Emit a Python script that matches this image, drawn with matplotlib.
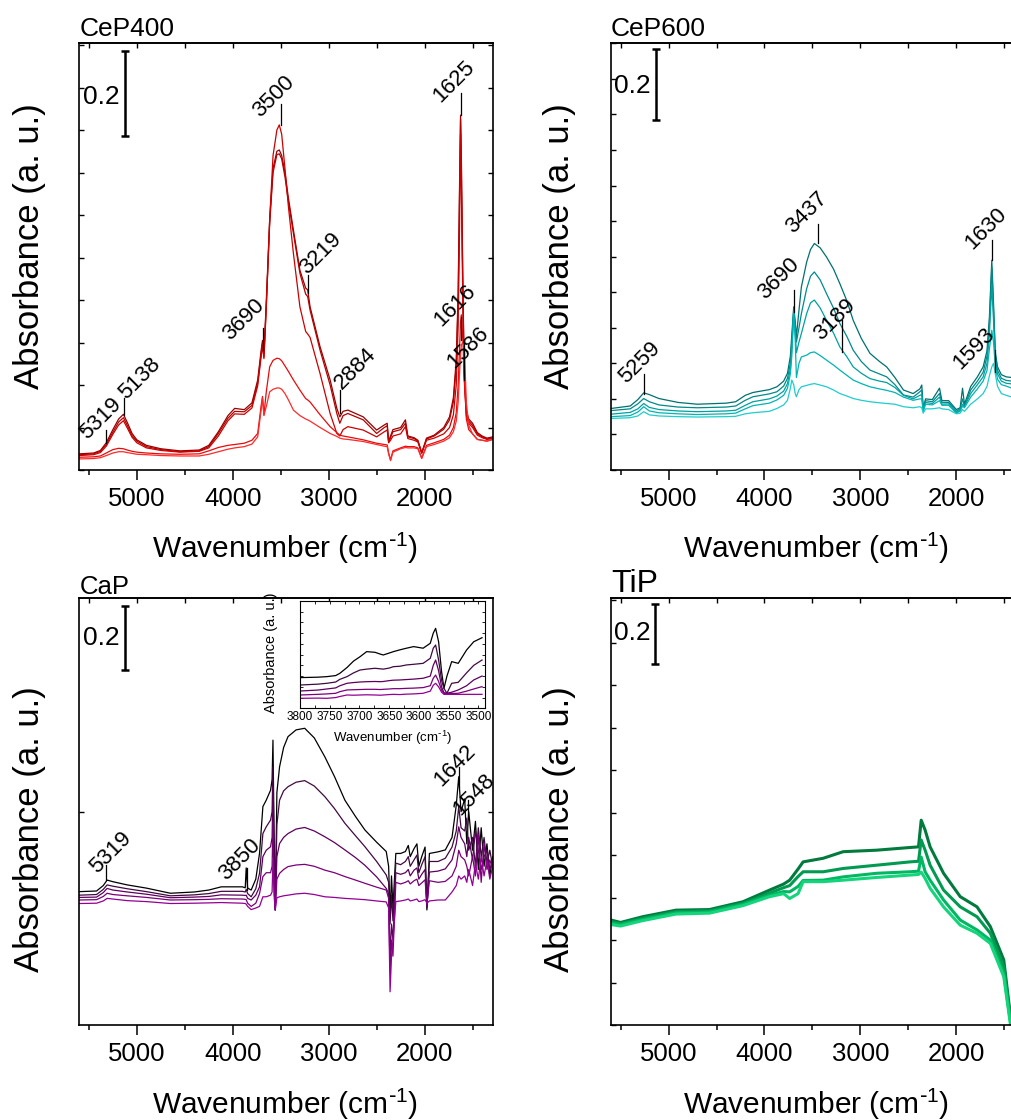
import matplotlib
matplotlib.use("Agg")
import matplotlib.pyplot as plt
from matplotlib.ticker import MultipleLocator, NullFormatter, FixedLocator

plt.rcParams['font.family'] = ['Liberation Sans', 'DejaVu Sans']
plt.rcParams['mathtext.default'] = 'regular'
plt.rcParams['axes.linewidth'] = 1.2

# ---------------- CeP400 ----------------
cep400_wn = [5600, 5450, 5380, 5319, 5250, 5190, 5140, 5100, 5050, 5000, 4900, 4750, 4550, 4350, 4250,
             4150, 4050, 3980, 3880, 3800, 3740, 3705, 3690, 3675, 3650, 3615, 3580, 3540, 3515, 3490,
             3456, 3420, 3368, 3300, 3240, 3219, 3194, 3090, 2985, 2915, 2884, 2850, 2800, 2640, 2500,
             2420, 2390, 2375, 2355, 2330, 2250, 2200, 2175, 2110, 2070, 2030, 1980, 1900, 1800, 1740,
             1700, 1670, 1650, 1635, 1625, 1616, 1600, 1586, 1565, 1540, 1500, 1450, 1400, 1350, 1290]
cep400_a1 = [0.038, 0.040, 0.046, 0.064, 0.095, 0.120, 0.131, 0.112, 0.086, 0.071, 0.058, 0.050, 0.045, 0.047, 0.058,
             0.090, 0.128, 0.145, 0.142, 0.158, 0.212, 0.280, 0.305, 0.272, 0.400, 0.590, 0.710, 0.750, 0.753, 0.740,
             0.700, 0.640, 0.565, 0.470, 0.428, 0.424, 0.384, 0.290, 0.212, 0.145, 0.125, 0.138, 0.141, 0.125, 0.094,
             0.106, 0.110, 0.068, 0.080, 0.095, 0.100, 0.118, 0.080, 0.076, 0.070, 0.040, 0.075, 0.082, 0.100, 0.125,
             0.170, 0.260, 0.420, 0.680, 0.835, 0.720, 0.420, 0.230, 0.140, 0.120, 0.110, 0.088, 0.080, 0.075, 0.078]
cep400_a2 = [0.036, 0.038, 0.044, 0.060, 0.089, 0.113, 0.123, 0.105, 0.081, 0.068, 0.055, 0.048, 0.043, 0.045, 0.055,
             0.086, 0.122, 0.138, 0.137, 0.152, 0.205, 0.272, 0.298, 0.266, 0.390, 0.580, 0.700, 0.742, 0.744, 0.732,
             0.690, 0.632, 0.557, 0.463, 0.414, 0.408, 0.376, 0.282, 0.200, 0.133, 0.110, 0.128, 0.133, 0.118, 0.086,
             0.100, 0.104, 0.066, 0.076, 0.090, 0.095, 0.110, 0.078, 0.074, 0.068, 0.040, 0.073, 0.080, 0.096, 0.118,
             0.160, 0.245, 0.400, 0.660, 0.825, 0.700, 0.400, 0.220, 0.135, 0.115, 0.105, 0.085, 0.078, 0.073, 0.076]
cep400_a3 = [0.034, 0.036, 0.041, 0.056, 0.084, 0.106, 0.116, 0.099, 0.077, 0.064, 0.052, 0.046, 0.042, 0.044, 0.052,
             0.080, 0.116, 0.132, 0.131, 0.146, 0.198, 0.265, 0.292, 0.262, 0.385, 0.590, 0.740, 0.800, 0.812, 0.790,
             0.710, 0.620, 0.510, 0.384, 0.326, 0.320, 0.312, 0.227, 0.133, 0.086, 0.080, 0.095, 0.102, 0.094, 0.078,
             0.090, 0.094, 0.064, 0.070, 0.080, 0.085, 0.102, 0.074, 0.070, 0.066, 0.040, 0.070, 0.075, 0.085, 0.100,
             0.130, 0.200, 0.340, 0.580, 0.790, 0.650, 0.370, 0.210, 0.128, 0.110, 0.100, 0.082, 0.076, 0.072, 0.074]
cep400_a4 = [0.030, 0.031, 0.033, 0.040, 0.048, 0.051, 0.050, 0.047, 0.044, 0.042, 0.040, 0.038, 0.037, 0.038, 0.045,
             0.053, 0.058, 0.060, 0.063, 0.070, 0.086, 0.150, 0.173, 0.130, 0.185, 0.243, 0.258, 0.263, 0.262, 0.257,
             0.245, 0.232, 0.212, 0.188, 0.168, 0.165, 0.160, 0.130, 0.102, 0.088, 0.082, 0.080, 0.078, 0.071, 0.063,
             0.060, 0.059, 0.040, 0.024, 0.045, 0.052, 0.056, 0.055, 0.055, 0.052, 0.028, 0.058, 0.064, 0.072, 0.082,
             0.100, 0.135, 0.200, 0.290, 0.350, 0.365, 0.300, 0.220, 0.120, 0.095, 0.085, 0.072, 0.070, 0.068, 0.072]
cep400_a5 = [0.026, 0.027, 0.029, 0.034, 0.040, 0.043, 0.043, 0.041, 0.039, 0.037, 0.036, 0.034, 0.033, 0.033, 0.037,
             0.043, 0.049, 0.052, 0.055, 0.061, 0.078, 0.140, 0.170, 0.128, 0.150, 0.184, 0.190, 0.193, 0.193, 0.190,
             0.180, 0.165, 0.141, 0.128, 0.120, 0.118, 0.115, 0.100, 0.086, 0.079, 0.075, 0.073, 0.072, 0.067, 0.060,
             0.056, 0.055, 0.038, 0.022, 0.042, 0.050, 0.053, 0.052, 0.052, 0.050, 0.027, 0.055, 0.060, 0.068, 0.076,
             0.090, 0.115, 0.160, 0.230, 0.275, 0.295, 0.300, 0.290, 0.160, 0.105, 0.085, 0.072, 0.070, 0.068, 0.072]
cep400_colors = ['#980000', '#b40000', '#cc0000', '#ea0a0a', '#ff2a2a']
cep400_marks = [  # label, line position, line bottom, line top, text centre (wn, A)
    ('5319', 5319, 0.063, 0.094, 5375, 0.120),
    ('5138', 5138, 0.129, 0.169, 4971, 0.216),
    ('3690', 3690, 0.282, 0.333, 3888, 0.353),
    ('3500', 3500, 0.812, 0.861, 3570, 0.878),
    ('3219', 3219, 0.416, 0.459, 3082, 0.510),
    ('2884', 2884, 0.133, 0.188, 2723, 0.238),
    ('1625', 1625, 0.835, 0.886, 1694, 0.914),
    ('1616', 1616, 0.306, 0.361, 1686, 0.388),
    ('1586', 1586, 0.212, 0.306, 1547, 0.289),
]

# ---------------- CeP600 ----------------
cep600_wn = [5600, 5400, 5320, 5259, 5200, 5100, 4900, 4700, 4400, 4300, 4200, 4120, 3950, 3870, 3800,
             3760, 3730, 3715, 3695, 3680, 3667, 3640, 3615, 3560, 3520, 3480, 3420, 3353, 3280, 3214,
             3140, 3075, 2990, 2900, 2800, 2726, 2640, 2551, 2450, 2380, 2360, 2345, 2320, 2250, 2175,
             2150, 2080, 2000, 1960, 1935, 1915, 1850, 1780, 1720, 1680, 1655, 1630, 1612, 1593, 1570,
             1530, 1480, 1420, 1290]
cep600_a1 = [0.173, 0.180, 0.198, 0.217, 0.212, 0.201, 0.190, 0.185, 0.188, 0.192, 0.210, 0.218, 0.226, 0.234, 0.250,
             0.272, 0.320, 0.380, 0.459, 0.420, 0.375, 0.450, 0.515, 0.585, 0.620, 0.637, 0.625, 0.599, 0.565, 0.524,
             0.475, 0.421, 0.370, 0.328, 0.305, 0.290, 0.260, 0.225, 0.215, 0.228, 0.239, 0.175, 0.200, 0.198, 0.230,
             0.195, 0.195, 0.170, 0.175, 0.230, 0.185, 0.235, 0.262, 0.290, 0.335, 0.430, 0.590, 0.470, 0.330, 0.290,
             0.268, 0.262, 0.260, 0.255]
cep600_a2 = [0.167, 0.172, 0.186, 0.201, 0.192, 0.183, 0.177, 0.175, 0.177, 0.180, 0.196, 0.206, 0.214, 0.220, 0.236,
             0.258, 0.300, 0.360, 0.450, 0.405, 0.360, 0.400, 0.440, 0.510, 0.545, 0.557, 0.535, 0.496, 0.455, 0.412,
             0.375, 0.337, 0.305, 0.281, 0.270, 0.262, 0.240, 0.211, 0.205, 0.220, 0.225, 0.170, 0.195, 0.192, 0.215,
             0.190, 0.190, 0.165, 0.172, 0.200, 0.180, 0.225, 0.250, 0.275, 0.320, 0.410, 0.570, 0.450, 0.320, 0.280,
             0.258, 0.252, 0.250, 0.245]
cep600_a3 = [0.157, 0.162, 0.172, 0.187, 0.176, 0.170, 0.166, 0.164, 0.166, 0.168, 0.182, 0.192, 0.200, 0.208, 0.222,
             0.243, 0.285, 0.340, 0.445, 0.390, 0.330, 0.360, 0.384, 0.440, 0.470, 0.478, 0.456, 0.421, 0.385, 0.346,
             0.318, 0.290, 0.272, 0.257, 0.250, 0.246, 0.232, 0.210, 0.200, 0.210, 0.212, 0.168, 0.190, 0.187, 0.205,
             0.185, 0.186, 0.162, 0.168, 0.185, 0.178, 0.215, 0.240, 0.262, 0.300, 0.380, 0.520, 0.420, 0.305, 0.270,
             0.250, 0.244, 0.242, 0.238]
cep600_a4 = [0.150, 0.153, 0.163, 0.178, 0.166, 0.161, 0.158, 0.156, 0.158, 0.160, 0.172, 0.181, 0.188, 0.197, 0.210,
             0.230, 0.270, 0.320, 0.440, 0.370, 0.260, 0.300, 0.318, 0.323, 0.330, 0.332, 0.322, 0.309, 0.295, 0.281,
             0.266, 0.253, 0.243, 0.234, 0.228, 0.224, 0.218, 0.205, 0.196, 0.200, 0.200, 0.165, 0.185, 0.183, 0.195,
             0.182, 0.182, 0.160, 0.165, 0.180, 0.175, 0.205, 0.228, 0.250, 0.280, 0.340, 0.393, 0.360, 0.290, 0.255,
             0.240, 0.236, 0.230, 0.228]
cep600_a5 = [0.145, 0.147, 0.152, 0.164, 0.155, 0.152, 0.150, 0.149, 0.150, 0.151, 0.158, 0.161, 0.165, 0.173, 0.183,
             0.196, 0.230, 0.253, 0.240, 0.215, 0.206, 0.226, 0.234, 0.238, 0.241, 0.243, 0.239, 0.234, 0.225, 0.215,
             0.208, 0.201, 0.196, 0.192, 0.189, 0.187, 0.185, 0.178, 0.175, 0.178, 0.175, 0.160, 0.172, 0.172, 0.175,
             0.172, 0.170, 0.158, 0.160, 0.170, 0.165, 0.185, 0.200, 0.215, 0.235, 0.265, 0.290, 0.300, 0.270, 0.235,
             0.215, 0.210, 0.205, 0.200]
cep600_colors = ['#007070', '#008a8a', '#00a0a0', '#00b4b4', '#20cccc']
cep600_marks = [
    ('5259', 5259, 0.215, 0.270, 5299, 0.302),
    ('3690', 3690, 0.445, 0.506, 3852, 0.537),
    ('3437', 3437, 0.637, 0.693, 3556, 0.724),
    ('3189', 3189, 0.332, 0.421, 3267, 0.424),
    ('1630', 1630, 0.590, 0.646, 1690, 0.679),
    ('1593', 1593, 0.276, 0.337, 1813, 0.340),
]

# ---------------- CaP ----------------
cap_wn = [5600, 5420, 5350, 5310, 5250, 5100, 4900, 4650, 4400, 4250, 4120, 3900, 3870, 3860, 3845,
          3808, 3760, 3721, 3686, 3651, 3606, 3590, 3581, 3570, 3557, 3540, 3512, 3470, 3424, 3340,
          3250, 3150, 3040, 2940, 2831, 2720, 2622, 2500, 2400, 2375, 2360, 2345, 2330, 2300, 2250,
          2200, 2170, 2150, 2110, 2080, 2060, 2030, 1995, 1976, 1950, 1860, 1784, 1714, 1670, 1644,
          1620, 1582, 1560, 1540, 1500, 1470, 1440, 1410, 1380, 1350, 1320, 1290]
cap_a1 = [0.251, 0.253, 0.270, 0.287, 0.282, 0.272, 0.262, 0.246, 0.250, 0.256, 0.266, 0.266, 0.263, 0.325, 0.262,
          0.256, 0.290, 0.370, 0.516, 0.536, 0.567, 0.600, 0.723, 0.450, 0.194, 0.560, 0.640, 0.700, 0.734, 0.755,
          0.760, 0.730, 0.671, 0.610, 0.536, 0.485, 0.443, 0.405, 0.376, 0.330, 0.180, 0.300, 0.200, 0.370, 0.370,
          0.376, 0.395, 0.360, 0.385, 0.400, 0.330, 0.360, 0.390, 0.194, 0.370, 0.375, 0.381, 0.420, 0.520, 0.609,
          0.500, 0.540, 0.400, 0.500, 0.380, 0.470, 0.320, 0.450, 0.330, 0.400, 0.300, 0.360]
cap_a2 = [0.240, 0.242, 0.258, 0.272, 0.268, 0.260, 0.251, 0.238, 0.241, 0.245, 0.252, 0.252, 0.250, 0.258, 0.245,
          0.235, 0.260, 0.308, 0.432, 0.453, 0.474, 0.500, 0.640, 0.380, 0.194, 0.460, 0.536, 0.565, 0.578, 0.592,
          0.597, 0.580, 0.547, 0.510, 0.464, 0.425, 0.391, 0.345, 0.303, 0.280, 0.150, 0.240, 0.160, 0.340, 0.335,
          0.345, 0.360, 0.330, 0.350, 0.365, 0.310, 0.335, 0.360, 0.200, 0.345, 0.345, 0.355, 0.390, 0.440, 0.516,
          0.450, 0.440, 0.480, 0.380, 0.420, 0.330, 0.450, 0.360, 0.420, 0.340, 0.380, 0.330]
cap_a3 = [0.233, 0.234, 0.248, 0.261, 0.256, 0.250, 0.243, 0.232, 0.234, 0.236, 0.241, 0.240, 0.239, 0.240, 0.230,
          0.225, 0.240, 0.266, 0.360, 0.380, 0.391, 0.420, 0.578, 0.330, 0.194, 0.360, 0.401, 0.420, 0.432, 0.446,
          0.451, 0.440, 0.422, 0.404, 0.381, 0.357, 0.333, 0.297, 0.261, 0.245, 0.050, 0.150, 0.100, 0.310, 0.305,
          0.310, 0.320, 0.300, 0.318, 0.325, 0.290, 0.305, 0.320, 0.205, 0.312, 0.315, 0.322, 0.350, 0.400, 0.453,
          0.420, 0.400, 0.360, 0.420, 0.350, 0.440, 0.380, 0.320, 0.360, 0.380, 0.320, 0.350]
cap_a4 = [0.225, 0.226, 0.236, 0.246, 0.242, 0.238, 0.233, 0.225, 0.226, 0.227, 0.229, 0.228, 0.227, 0.226, 0.215,
          0.205, 0.215, 0.245, 0.298, 0.310, 0.310, 0.330, 0.470, 0.280, 0.194, 0.290, 0.308, 0.320, 0.329, 0.334,
          0.336, 0.330, 0.318, 0.310, 0.298, 0.287, 0.277, 0.265, 0.256, 0.230, 0.000, 0.100, 0.050, 0.280, 0.275,
          0.280, 0.285, 0.275, 0.285, 0.290, 0.270, 0.278, 0.288, 0.210, 0.285, 0.280, 0.283, 0.300, 0.330, 0.380,
          0.360, 0.350, 0.330, 0.300, 0.360, 0.300, 0.430, 0.280, 0.400, 0.320, 0.350, 0.320]
cap_a5 = [0.214, 0.215, 0.222, 0.230, 0.228, 0.223, 0.220, 0.214, 0.215, 0.216, 0.217, 0.215, 0.214, 0.212, 0.205,
          0.195, 0.200, 0.205, 0.235, 0.235, 0.240, 0.250, 0.350, 0.240, 0.194, 0.232, 0.235, 0.238, 0.240, 0.244,
          0.246, 0.242, 0.235, 0.233, 0.230, 0.228, 0.226, 0.222, 0.219, 0.200, -0.061, 0.050, 0.100, 0.220, 0.222,
          0.225, 0.228, 0.222, 0.225, 0.228, 0.220, 0.222, 0.226, 0.215, 0.222, 0.225, 0.225, 0.250, 0.270, 0.300,
          0.290, 0.300, 0.280, 0.320, 0.270, 0.340, 0.290, 0.360, 0.300, 0.350, 0.290, 0.330]
cap_colors = ['#000000', '#400a40', '#5e005e', '#7a007a', '#940094']
cap_marks = [
    ('5319', 5319, 0.287, 0.334, 5274, 0.374),
    ('3850', 3850, 0.256, 0.324, 3930, 0.350),
    ('1642', 1642, 0.578, 0.640, 1680, 0.643),
    ('1548', 1548, 0.484, 0.536, 1487, 0.552),
]

# CaP inset: 3800-3490 cm-1 detail
inset_wn = [3800, 3770, 3755, 3740, 3733, 3721, 3710, 3699, 3688, 3674, 3665, 3660, 3650, 3643, 3632,
            3621, 3609, 3593, 3581, 3576, 3572, 3567, 3562, 3558, 3553, 3545, 3534, 3520, 3508, 3494]
inset_b1 = [0.286, 0.290, 0.295, 0.305, 0.326, 0.380, 0.440, 0.481, 0.528, 0.522, 0.505, 0.497, 0.515, 0.528, 0.545,
            0.560, 0.575, 0.560, 0.606, 0.700, 0.745, 0.620, 0.342, 0.186, 0.300, 0.435, 0.419, 0.543, 0.620, 0.658]
inset_b2 = [0.217, 0.225, 0.233, 0.245, 0.270, 0.295, 0.330, 0.357, 0.365, 0.373, 0.368, 0.365, 0.375, 0.388, 0.392,
            0.404, 0.410, 0.419, 0.466, 0.560, 0.590, 0.450, 0.260, 0.186, 0.140, 0.233, 0.242, 0.330, 0.400, 0.450]
inset_b3 = [0.161, 0.170, 0.180, 0.190, 0.210, 0.233, 0.240, 0.245, 0.248, 0.250, 0.248, 0.250, 0.258, 0.262, 0.264,
            0.268, 0.272, 0.280, 0.300, 0.400, 0.450, 0.350, 0.200, 0.145, 0.140, 0.150, 0.171, 0.210, 0.264, 0.301]
inset_b4 = [0.124, 0.130, 0.134, 0.140, 0.155, 0.171, 0.173, 0.175, 0.177, 0.177, 0.175, 0.177, 0.180, 0.183, 0.183,
            0.186, 0.188, 0.193, 0.210, 0.280, 0.310, 0.250, 0.170, 0.140, 0.138, 0.138, 0.140, 0.160, 0.180, 0.202]
inset_b5 = [0.093, 0.095, 0.093, 0.100, 0.110, 0.124, 0.122, 0.124, 0.126, 0.124, 0.122, 0.124, 0.128, 0.130, 0.128,
            0.132, 0.134, 0.140, 0.160, 0.215, 0.233, 0.200, 0.150, 0.130, 0.130, 0.130, 0.130, 0.130, 0.130, 0.130]
inset_ticks = [3800, 3750, 3700, 3650, 3600, 3550, 3500]

# ---------------- TiP ----------------
tip_wn = [5600, 5500, 5271, 4923, 4574, 4225, 3946, 3800, 3737, 3650, 3597, 3388, 3179, 2830, 2482,
          2394, 2366, 2325, 2273, 2133, 1959, 1784, 1645, 1505, 1435, 1400, 1290]
tip_a1 = [0.350, 0.342, 0.361, 0.383, 0.385, 0.411, 0.450, 0.470, 0.483, 0.520, 0.544, 0.556, 0.578, 0.583, 0.592,
          0.594, 0.683, 0.650, 0.594, 0.506, 0.428, 0.394, 0.328, 0.217, 0.028, -0.100, -0.500]
tip_a2 = [0.345, 0.338, 0.356, 0.378, 0.381, 0.406, 0.440, 0.458, 0.465, 0.495, 0.511, 0.511, 0.522, 0.533, 0.544,
          0.546, 0.617, 0.583, 0.533, 0.450, 0.394, 0.361, 0.306, 0.194, 0.020, -0.110, -0.500]
tip_a3 = [0.340, 0.335, 0.352, 0.374, 0.377, 0.402, 0.433, 0.445, 0.444, 0.462, 0.482, 0.483, 0.494, 0.506, 0.511,
          0.513, 0.560, 0.511, 0.483, 0.417, 0.350, 0.317, 0.283, 0.172, 0.010, -0.120, -0.500]
tip_a4 = [0.335, 0.330, 0.348, 0.370, 0.373, 0.398, 0.428, 0.438, 0.422, 0.438, 0.478, 0.478, 0.483, 0.492, 0.500,
          0.502, 0.510, 0.489, 0.456, 0.394, 0.333, 0.306, 0.272, 0.161, 0.000, -0.130, -0.500]
tip_colors = ['#007a3d', '#009a50', '#00b862', '#14d47c']

xlabel = r'Wavenumber (cm$^{\text{-}1}$)'
ylabel = 'Absorbance (a. u.)'

W, H = 1012, 1120
fig = plt.figure(figsize=(W / 100, H / 100), dpi=100)


def add_axes_px(left, top, right, bottom):
    return fig.add_axes([left / W, 1 - bottom / H, (right - left) / W, (bottom - top) / H])


def style(ax, ylim, ylocator):
    ax.set_xlim(5600, 1290)
    ax.set_ylim(*ylim)
    ax.xaxis.set_major_locator(MultipleLocator(1000))
    ax.xaxis.set_minor_locator(MultipleLocator(500))
    ax.yaxis.set_major_locator(ylocator)
    ax.tick_params(axis='x', which='major', direction='out', length=7, width=1.1, labelsize=18.5, pad=5)
    ax.tick_params(axis='x', which='minor', direction='out', length=3.5, width=1.1)
    ax.tick_params(axis='y', which='major', direction='in', left=True, right=True,
                   labelleft=False, length=3.5, width=1.0)
    top = ax.secondary_xaxis('top')
    top.xaxis.set_major_locator(MultipleLocator(1000))
    top.xaxis.set_minor_locator(MultipleLocator(500))
    top.xaxis.set_major_formatter(NullFormatter())
    top.tick_params(axis='x', which='major', direction='in', length=3.5, width=1.0)
    top.tick_params(axis='x', which='minor', direction='in', length=3.5, width=1.0)


def draw_marks(ax, marks):
    for label, x, y0, y1, tx, ty in marks:
        ax.plot([x, x], [y0, y1], color='black', lw=0.9)
        ax.text(tx, ty, label, rotation=45, rotation_mode='anchor', ha='center', va='center',
                fontsize=16)


def scale_bar(ax, x, y0, tx, ty):
    ax.plot([x, x], [y0, y0 + 0.2], color='black', lw=1.8, solid_capstyle='butt')
    ax.plot([x, x], [y0, y0 + 0.2], ls='none', marker='_', ms=5.5, mew=1.8, color='black')
    ax.text(tx, ty, '0.2', ha='right', va='center', fontsize=19)


ax_tl = add_axes_px(79.3, 43.3, 492.7, 470)
ax_tr = add_axes_px(611, 43.3, 1024.4, 470)
ax_bl = add_axes_px(79.3, 598.3, 492.7, 1025)
ax_br = add_axes_px(611, 598.3, 1024.4, 1025)

# CeP400
for ys, c in zip([cep400_a1, cep400_a2, cep400_a3, cep400_a4, cep400_a5], cep400_colors):
    ax_tl.plot(cep400_wn, ys, color=c, lw=0.9)
style(ax_tl, (0, 1.004), MultipleLocator(0.1))
draw_marks(ax_tl, cep400_marks)
scale_bar(ax_tl, 5120, 0.786, 5176, 0.878)

# CeP600
for ys, c in zip([cep600_a1, cep600_a2, cep600_a3, cep600_a4, cep600_a5], cep600_colors):
    ax_tr.plot(cep600_wn, ys, color=c, lw=0.9)
style(ax_tr, (0, 1.2), MultipleLocator(0.1))
draw_marks(ax_tr, cep600_marks)
scale_bar(ax_tr, 5132, 0.985, 5184, 1.081)

# CaP
for ys, c in zip([cap_a1, cap_a2, cap_a3, cap_a4, cap_a5], cap_colors):
    ax_bl.plot(cap_wn, ys, color=c, lw=0.9)
style(ax_bl, (-0.1645, 1.165), FixedLocator([0.5]))
draw_marks(ax_bl, cap_marks)
scale_bar(ax_bl, 5120, 0.941, 5176, 1.040)

# TiP
for ys, c in zip([tip_a1, tip_a2, tip_a3, tip_a4], tip_colors):
    ax_br.plot(tip_wn, ys, color=c, lw=2.2)
style(ax_br, (0, 1.423), MultipleLocator(0.1417))
scale_bar(ax_br, 5139, 1.203, 5184, 1.306)

# CaP inset
ax_in = add_axes_px(300, 601, 485, 708.3)
for ys, c in zip([inset_b1, inset_b2, inset_b3, inset_b4, inset_b5], cap_colors):
    ax_in.plot(inset_wn, ys, color=c, lw=0.9)
ax_in.set_xlim(3800, 3489)
ax_in.set_ylim(0, 1)
ax_in.set_xticks(inset_ticks)
ax_in.xaxis.set_minor_locator(MultipleLocator(25))
ax_in.yaxis.set_major_locator(MultipleLocator(0.1))
ax_in.tick_params(axis='x', which='both', direction='in', top=True, labelsize=8.5, length=2.5, width=0.6, pad=2)
ax_in.tick_params(axis='y', which='both', direction='in', left=True, right=True, labelleft=False,
                  length=2.5, width=0.6)
for sp in ax_in.spines.values():
    sp.set_linewidth(0.8)
ax_in.set_xlabel(xlabel, fontsize=9.5, labelpad=4)
ax_in.set_ylabel(ylabel, fontsize=10.5)
ax_in.yaxis.set_label_coords(-0.12, 0.52)

# panel titles
fig.text(80 / W, 1 - 36 / H, 'CeP400', fontsize=19, ha='left', va='baseline')
fig.text(611 / W, 1 - 36 / H, 'CeP600', fontsize=19, ha='left', va='baseline')
fig.text(80 / W, 1 - 594 / H, 'CaP', fontsize=18.5, ha='left', va='baseline')
fig.text(611 / W, 1 - 591.7 / H, 'TiP', fontsize=23, ha='left', va='baseline')

# axis labels
for xc, yc in [(285, 548), (816, 548), (285, 1104), (816, 1104)]:
    fig.text(xc / W, 1 - yc / H, xlabel, fontsize=21.5, ha='center', va='center')
for xc, yc in [(30, 246), (560, 246), (30, 829), (560, 829)]:
    fig.text(xc / W, 1 - yc / H, ylabel, fontsize=25, ha='center', va='center', rotation=90)

fig.savefig('out.png', dpi=100)
